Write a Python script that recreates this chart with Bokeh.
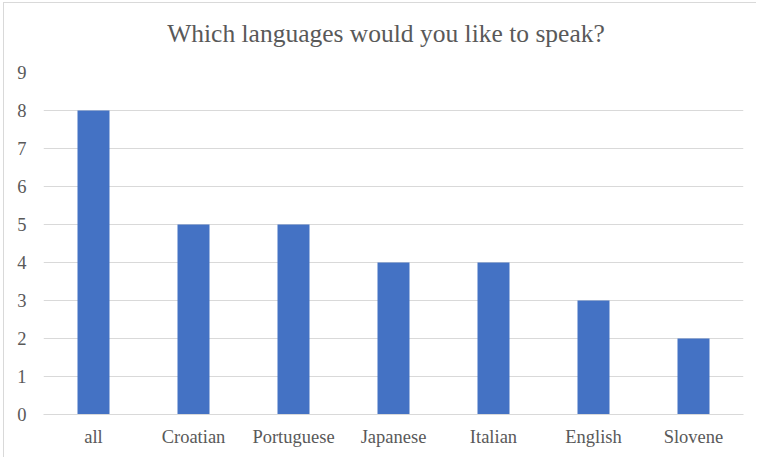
from bokeh.plotting import figure
from bokeh.models import FactorRange, Range1d, FixedTicker, ColumnDataSource, Div
from bokeh.layouts import column
from bokeh.embed import file_html
from bokeh.resources import INLINE

languages = ["all", "Croatian", "Portuguese", "Japanese", "Italian", "English", "Slovene"]
counts = [8, 5, 5, 4, 4, 3, 2]
y_ticks = [0, 1, 2, 3, 4, 5, 6, 7, 8, 9]
title_text = "Which languages would you like to speak?"

FONT = "Liberation Serif"
TXT = "#595959"

src = ColumnDataSource(dict(lang=languages, n=counts))

title = Div(
    text=f'<div style="font-family:\'{FONT}\';font-size:25.5px;line-height:28px;'
         f'color:{TXT};text-align:center;width:740px;margin:0 0 0 12px;padding-top:17px;'
         f'white-space:nowrap;">{title_text}</div>',
    width=752, height=48, margin=(0, 0, 0, 0),
)

fig = figure(
    x_range=FactorRange(*languages, range_padding=0),
    y_range=Range1d(0, 9),
    width=752, height=406,
    output_backend="svg", toolbar_location=None,
    min_border_left=39, min_border_right=13, min_border_top=21, min_border_bottom=43,
    background_fill_color="white", border_fill_color="white",
)
fig.outline_line_color = None

fig.vbar(x="lang", top="n", width=0.32, source=src, fill_color="#4472C4", line_color=None)

fig.xgrid.grid_line_color = None
fig.ygrid.grid_line_color = "#d9d9d9"
fig.ygrid.grid_line_width = 1
fig.yaxis.ticker = FixedTicker(ticks=y_ticks)

for ax in (fig.xaxis[0], fig.yaxis[0]):
    ax.major_label_text_font = FONT
    ax.major_label_text_font_size = "18.5px"
    ax.major_label_text_color = TXT
    ax.major_tick_line_color = None
    ax.minor_tick_line_color = None
    ax.major_tick_out = 0
    ax.major_tick_in = 0

fig.yaxis.axis_line_color = None
fig.yaxis.major_label_standoff = 17
fig.xaxis.axis_line_color = "#d9d9d9"
fig.xaxis.major_label_standoff = 12

p = column(title, fig, spacing=0)
p.styles = {"border-left": "1px solid #d9d9d9", "border-top": "1px solid #d9d9d9",
            "margin-left": "3px", "margin-top": "2px", "background-color": "white"}

open("out.html", "w").write(file_html(p, INLINE))
